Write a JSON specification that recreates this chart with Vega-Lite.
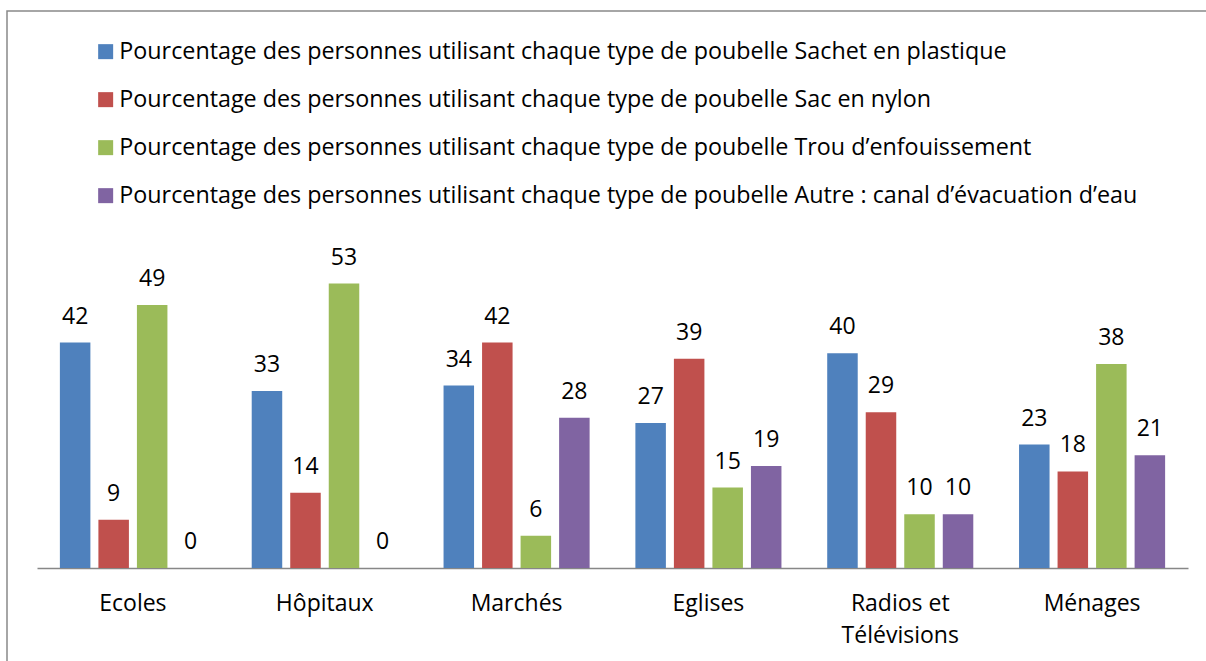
{
  "$schema": "https://vega.github.io/schema/vega-lite/v6.json",
  "autosize": {"type": "none"},
  "padding": {"left": 7, "top": 11, "right": 0, "bottom": 0},
  "width": 1209,
  "height": 660,
  "background": "white",
  "config": {
    "view": {"stroke": "#898989", "strokeWidth": 1.5},
    "font": "Open Sans",
    "text": {"font": "Open Sans"}
  },
  "data": {
    "values": [
      {"lieu": "Ecoles", "serie": "Sachet en plastique", "valeur": 42},
      {"lieu": "Ecoles", "serie": "Sac en nylon", "valeur": 9},
      {"lieu": "Ecoles", "serie": "Trou d’enfouissement", "valeur": 49},
      {"lieu": "Ecoles", "serie": "Autre : canal d’évacuation d’eau", "valeur": 0},
      {"lieu": "Hôpitaux", "serie": "Sachet en plastique", "valeur": 33},
      {"lieu": "Hôpitaux", "serie": "Sac en nylon", "valeur": 14},
      {"lieu": "Hôpitaux", "serie": "Trou d’enfouissement", "valeur": 53},
      {"lieu": "Hôpitaux", "serie": "Autre : canal d’évacuation d’eau", "valeur": 0},
      {"lieu": "Marchés", "serie": "Sachet en plastique", "valeur": 34},
      {"lieu": "Marchés", "serie": "Sac en nylon", "valeur": 42},
      {"lieu": "Marchés", "serie": "Trou d’enfouissement", "valeur": 6},
      {"lieu": "Marchés", "serie": "Autre : canal d’évacuation d’eau", "valeur": 28},
      {"lieu": "Eglises", "serie": "Sachet en plastique", "valeur": 27},
      {"lieu": "Eglises", "serie": "Sac en nylon", "valeur": 39},
      {"lieu": "Eglises", "serie": "Trou d’enfouissement", "valeur": 15},
      {"lieu": "Eglises", "serie": "Autre : canal d’évacuation d’eau", "valeur": 19},
      {"lieu": "Radios et Télévisions", "serie": "Sachet en plastique", "valeur": 40},
      {"lieu": "Radios et Télévisions", "serie": "Sac en nylon", "valeur": 29},
      {"lieu": "Radios et Télévisions", "serie": "Trou d’enfouissement", "valeur": 10},
      {"lieu": "Radios et Télévisions", "serie": "Autre : canal d’évacuation d’eau", "valeur": 10},
      {"lieu": "Ménages", "serie": "Sachet en plastique", "valeur": 23},
      {"lieu": "Ménages", "serie": "Sac en nylon", "valeur": 18},
      {"lieu": "Ménages", "serie": "Trou d’enfouissement", "valeur": 38},
      {"lieu": "Ménages", "serie": "Autre : canal d’évacuation d’eau", "valeur": 21}
    ]
  },
  "encoding": {
    "x": {
      "field": "lieu",
      "type": "nominal",
      "sort": ["Ecoles", "Hôpitaux", "Marchés", "Eglises", "Radios et Télévisions", "Ménages"],
      "scale": {"range": [30, 1181], "paddingInner": 0, "paddingOuter": 0},
      "axis": {
        "title": null,
        "orient": "bottom",
        "offset": -103,
        "labelAngle": 0,
        "ticks": false,
        "domainColor": "#878787",
        "domainWidth": 1.5,
        "labelFont": "Open Sans",
        "labelFontSize": 23,
        "labelColor": "#000000",
        "labelPadding": 24,
        "labelLineHeight": 32,
        "labelBaseline": "top",
        "labelExpr": "datum.label == 'Radios et Télévisions' ? ['Radios et', 'Télévisions'] : datum.label"
      }
    },
    "xOffset": {
      "field": "serie",
      "type": "nominal",
      "sort": ["Sachet en plastique", "Sac en nylon", "Trou d’enfouissement", "Autre : canal d’évacuation d’eau"],
      "scale": {"paddingInner": 0.208, "paddingOuter": 0.594}
    },
    "y": {
      "field": "valeur",
      "type": "quantitative",
      "scale": {"domain": [0, 60], "range": [557, 235]},
      "axis": null
    }
  },
  "layer": [
    {
      "mark": {"type": "bar"},
      "encoding": {
        "color": {
          "field": "serie",
          "type": "nominal",
          "sort": ["Sachet en plastique", "Sac en nylon", "Trou d’enfouissement", "Autre : canal d’évacuation d’eau"],
          "scale": {
            "domain": ["Sachet en plastique", "Sac en nylon", "Trou d’enfouissement", "Autre : canal d’évacuation d’eau"],
            "range": ["#4F81BD", "#C0504D", "#9BBB59", "#8064A2"]
          },
          "legend": {
            "title": null,
            "orient": "none",
            "legendX": 87,
            "legendY": 29,
            "direction": "vertical",
            "padding": 0,
            "symbolType": "square",
            "symbolSize": 225,
            "symbolStrokeWidth": 0,
            "symbolOpacity": 1,
            "labelFont": "Open Sans",
            "labelFontSize": 23.3,
            "labelColor": "#000000",
            "labelOffset": 2,
            "labelLimit": 2000,
            "rowPadding": 24,
            "labelExpr": "'Pourcentage des personnes utilisant chaque type de poubelle ' + datum.label"
          }
        }
      }
    },
    {
      "mark": {"type": "text", "baseline": "alphabetic", "dy": -19, "fontSize": 23, "font": "Open Sans", "color": "#000000"},
      "encoding": {
        "text": {"field": "valeur", "type": "quantitative"}
      }
    }
  ]
}
